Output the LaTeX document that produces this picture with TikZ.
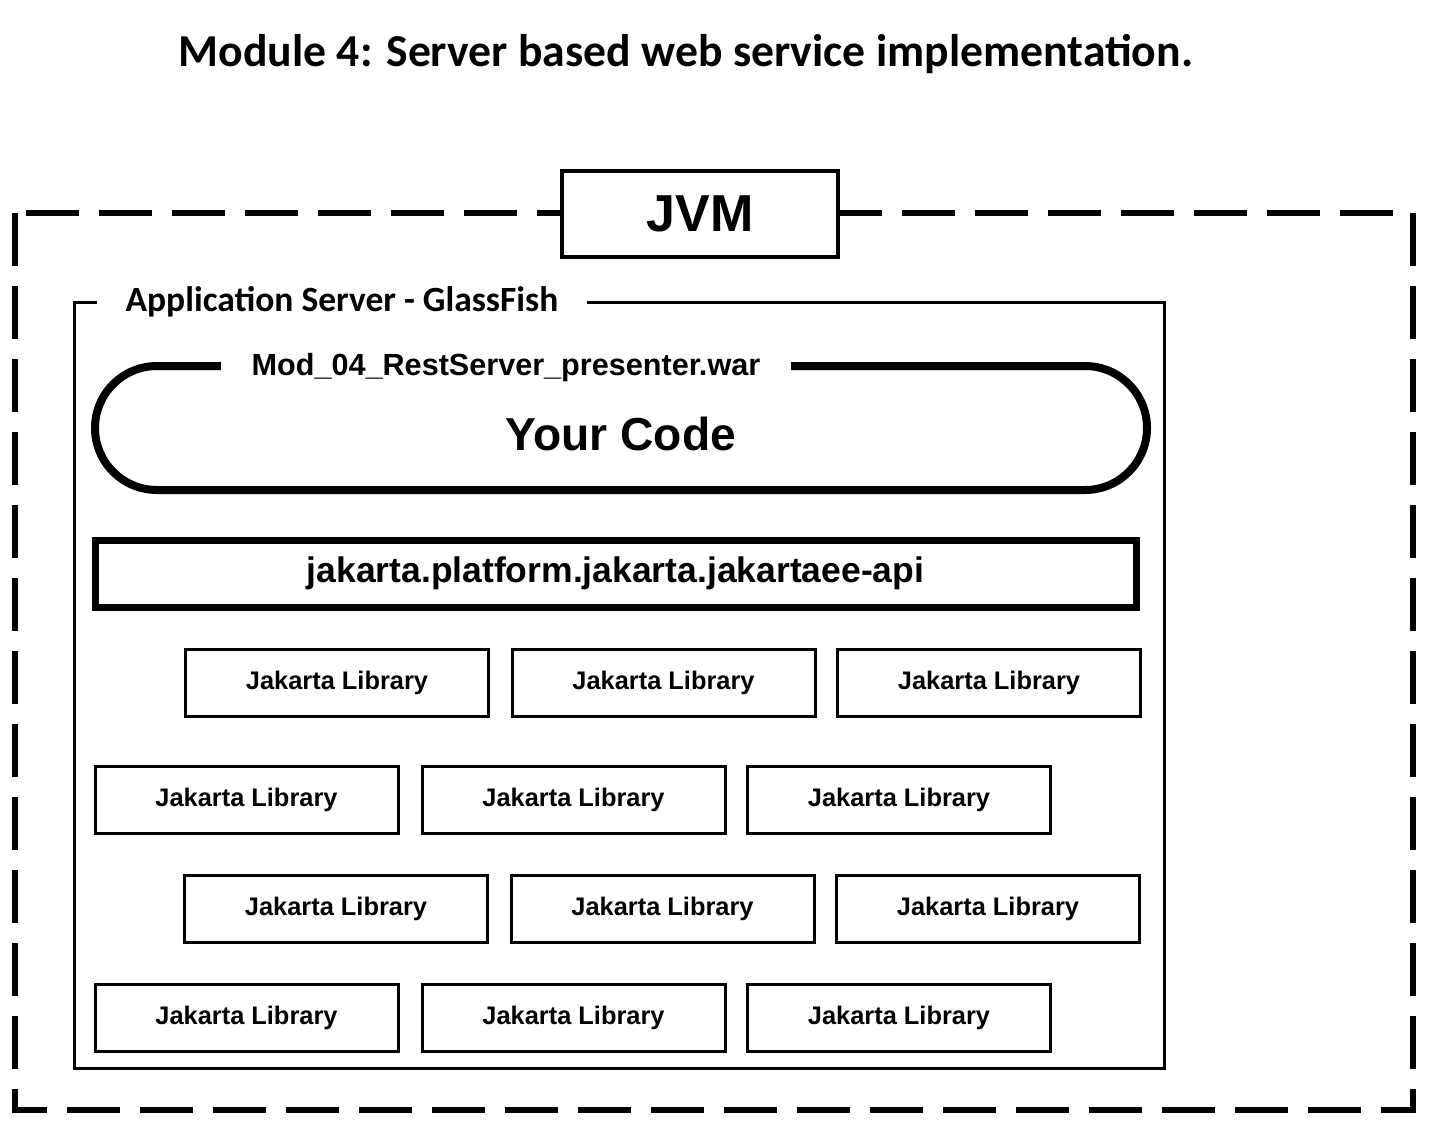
\documentclass[tikz,border=0pt]{standalone}
\usepackage{fontspec}
\setmainfont{Liberation Sans}
\newfontfamily\calibri{Carlito}

\tikzset{
  lib/.style={draw,line width=3pt,minimum width=303pt,minimum height=67pt,
    inner sep=0pt,font=\bfseries\fontsize{25.4}{30}\selectfont},
  gaplabel/.style={fill=white,inner ysep=2pt}
}

\begin{document}
\begin{tikzpicture}[x=1pt,y=-1pt]
\useasboundingbox (0,0) rectangle (1429,1128);
% title
\node (title) at (686,54) {\calibri\bfseries\fontsize{45.7}{52}\selectfont Module 4: Server based web service implementation.};
% JVM
\draw[line width=6pt,dash pattern=on 53pt off 20pt] (15,213) rectangle (1413,1110);
\node[draw,line width=4pt,fill=white,minimum width=276pt,minimum height=86pt,
  font=\bfseries\fontsize{52}{60}\selectfont] (jvm) at (700,214) {JVM};
% application server
\draw[line width=3pt] (74,302) rectangle (1164,1068);
\node[gaplabel,inner xsep=28.5pt] (appsrv) at (342,302) {\calibri\bfseries\fontsize{35.5}{40}\selectfont Application Server - GlassFish};
% war
\draw[line width=8pt,rounded corners=62pt] (95,366) rectangle (1147,490);
\node[gaplabel,inner xsep=31pt,font=\bfseries\fontsize{30.6}{36}\selectfont] (war) at (506,368) {Mod\_04\_RestServer\_presenter.war};
\node[font=\bfseries\fontsize{46.2}{52}\selectfont] (code) at (621,434) {Your Code};
% api
\node[draw,line width=7pt,minimum width=1041pt,minimum height=67pt,
  font=\bfseries\fontsize{35.5}{42}\selectfont] (api) at (615.5,573.5) {jakarta.platform.jakarta.jakartaee-api};
% libraries
\node[lib] (lib11) at (337,682.5) {Jakarta Library};
\node[lib] (lib12) at (663.5,682.5) {Jakarta Library};
\node[lib] (lib13) at (989,682.5) {Jakarta Library};
\node[lib] (lib21) at (246.5,799.5) {Jakarta Library};
\node[lib] (lib22) at (573.5,799.5) {Jakarta Library};
\node[lib] (lib23) at (899,799.5) {Jakarta Library};
\node[lib] (lib31) at (336,908.5) {Jakarta Library};
\node[lib] (lib32) at (662.5,908.5) {Jakarta Library};
\node[lib] (lib33) at (988,908.5) {Jakarta Library};
\node[lib] (lib41) at (246.5,1017.5) {Jakarta Library};
\node[lib] (lib42) at (573.5,1017.5) {Jakarta Library};
\node[lib] (lib43) at (899,1017.5) {Jakarta Library};
\end{tikzpicture}
\end{document}
